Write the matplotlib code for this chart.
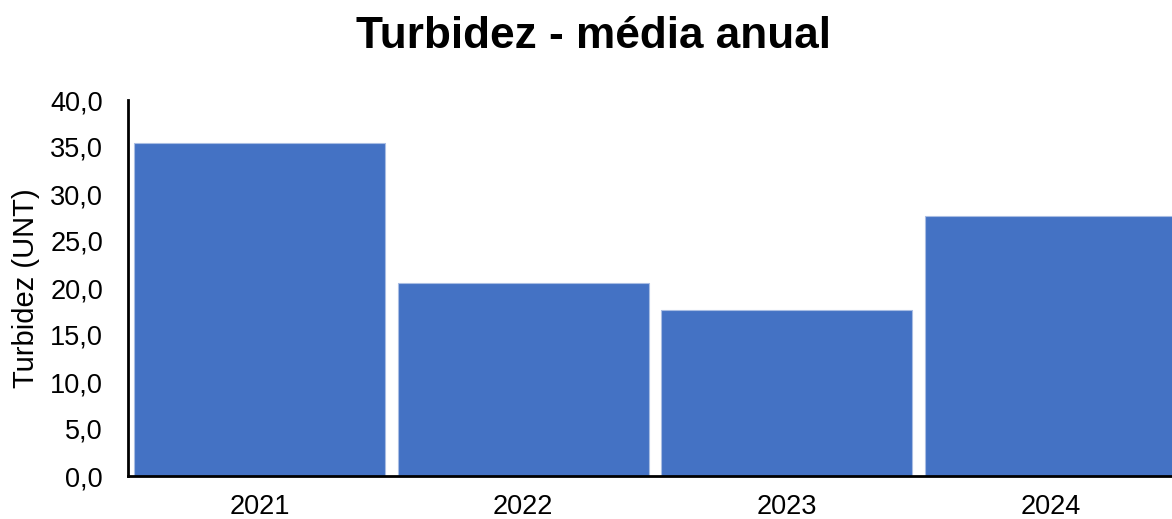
import matplotlib.pyplot as plt
from matplotlib.ticker import FuncFormatter

anos = ['2021', '2022', '2023', '2024']
turbidez = [35.4, 20.5, 17.7, 27.7]

plt.rcParams['font.family'] = ['Liberation Sans', 'DejaVu Sans']

fig = plt.figure(figsize=(11.72, 5.19), dpi=100)
ax = fig.add_axes([128 / 1172, 43 / 519, 1054 / 1172, 376 / 519])

ax.bar(range(len(anos)), turbidez, width=0.952, color='#4472C4',
       edgecolor='#A9BDE3', linewidth=0.8)

ax.set_xlim(-0.5, 3.5)
ax.set_ylim(0, 40)
ax.set_yticks(range(0, 41, 5))
ax.yaxis.set_major_formatter(FuncFormatter(lambda v, p: f'{v:.1f}'.replace('.', ',')))
ax.set_xticks(range(len(anos)))
ax.set_xticklabels(anos)

ax.tick_params(axis='both', length=0, labelsize=19.5, colors='#000000')
ax.tick_params(axis='y', pad=18)
ax.tick_params(axis='x', pad=13)

for s in ['top', 'right']:
    ax.spines[s].set_visible(False)
ax.spines['left'].set_linewidth(2)
ax.spines['bottom'].set_linewidth(2)

ax.set_ylabel('Turbidez (UNT)', fontsize=21, labelpad=7)

fig.text(593 / 1172, 1 - 36 / 519, 'Turbidez - média anual', fontsize=31.8,
         fontweight='bold', ha='center', va='center')

plt.savefig('out.png', dpi=100)
